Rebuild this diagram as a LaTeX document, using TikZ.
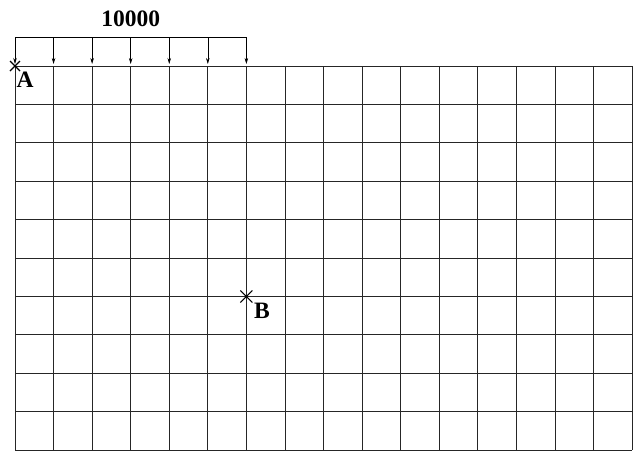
\documentclass[tikz,border=0pt]{standalone}
\usepackage{fontspec}
\setmainfont{Liberation Serif}
\usetikzlibrary{arrows.meta,calc}
\begin{document}
\begin{tikzpicture}[x=1pt,y=-1pt,
  gridline/.style={line width=0.7pt, black!85},
  loadline/.style={line width=0.6pt},
  loadarrow/.style={line width=0.6pt, -{Stealth[length=6pt,width=3.5pt]}},
  crossmark/.style={line width=1.1pt},
  lbl/.style={font=\fontsize{23.5}{25}\selectfont\bfseries, inner sep=0pt}]
\useasboundingbox (0,0) rectangle (634,451);
\pgfmathsetmacro{\cw}{(632-15)/16}
\pgfmathsetmacro{\rh}{(450-66)/10}
% grid
\foreach \i in {0,...,16} {
  \draw[gridline] ({15+\i*\cw},66) -- ({15+\i*\cw},450);
}
\foreach \j in {0,...,10} {
  \draw[gridline] (15,{66+\j*\rh}) -- (632,{66+\j*\rh});
}
% load
\coordinate (L0) at (15,37);
\coordinate (L6) at ({15+6*\cw},37);
\draw[loadline] (L0) -- (L6);
\foreach \i in {0,...,6} {
  \coordinate (s\i) at ({15+\i*\cw},37);
  \coordinate (e\i) at ({15+\i*\cw},64);
  \draw[loadarrow] (s\i) -- (e\i);
}
\node[lbl] (load) at ({15+3*\cw},19) {10000};
% A
\coordinate (A) at (15,66);
\draw[crossmark] ($(A)+(-5,-5)$) -- ($(A)+(5,5)$);
\draw[crossmark] ($(A)+(-5,5)$) -- ($(A)+(5,-5)$);
\node[lbl] (Alab) at (25,80) {A};
% B
\coordinate (B) at ({15+6*\cw},{66+6*\rh});
\draw[crossmark] ($(B)+(-6,-6)$) -- ($(B)+(6,6)$);
\draw[crossmark] ($(B)+(-6,6)$) -- ($(B)+(6,-6)$);
\node[lbl] (Blab) at (262,311) {B};
\end{tikzpicture}
\end{document}
